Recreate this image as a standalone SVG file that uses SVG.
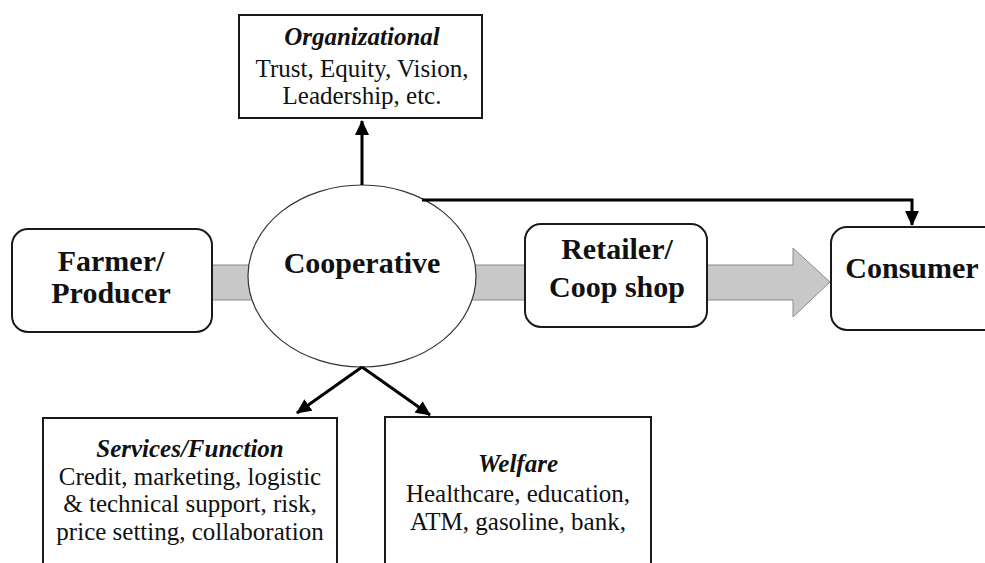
<svg xmlns="http://www.w3.org/2000/svg" width="985" height="563" viewBox="0 0 985 563">
<style>
.bg{fill:#ffffff}
.rbox{fill:#ffffff;stroke:#1a1a1a;stroke-width:2}
.sbox{fill:#ffffff;stroke:#1a1a1a;stroke-width:2}
.ell{fill:#ffffff;stroke:#333333;stroke-width:1.2}
.flow{fill:#c8c8c8;stroke:#8a8a8a;stroke-width:1}
.conn{fill:none;stroke:#000000;stroke-width:3}
text{font-family:'Liberation Serif',Tinos,'Times New Roman',Times,'Nimbus Roman','Noto Serif','DejaVu Serif',serif;fill:#111111;text-anchor:middle}
.big{font-weight:bold;font-size:30px}
.hd{font-weight:bold;font-style:italic;font-size:25px}
.bd{font-size:25px}
</style>
<defs>
<marker id="ah" markerUnits="userSpaceOnUse" markerWidth="16" markerHeight="14" refX="14" refY="7" orient="auto">
<path d="M0,0 L15,7 L0,14 Z" fill="#000000"/>
</marker>
</defs>
<rect class="bg" x="0" y="0" width="985" height="563"/>
<g id="flows">
<rect class="flow" x="210" y="265" width="52" height="35"/>
<rect class="flow" x="462" y="265" width="65" height="35"/>
<polygon class="flow" points="707,265 793,265 793,248 830,282 793,317 793,300 707,300"/>
</g>
<g id="farmer">
<rect class="rbox" x="12" y="229" width="200" height="103" rx="16"/>
<text class="big" x="111" y="271">Farmer/</text>
<text class="big" x="111" y="303">Producer</text>
</g>
<g id="cooperative">
<ellipse class="ell" cx="362" cy="276" rx="114" ry="91"/>
<text class="big" x="362" y="273">Cooperative</text>
</g>
<g id="retailer">
<rect class="rbox" x="525" y="224" width="182" height="103" rx="16"/>
<text class="big" x="617" y="259">Retailer/</text>
<text class="big" x="617" y="297">Coop shop</text>
</g>
<g id="consumer">
<rect class="rbox" x="831" y="227" width="170" height="103" rx="16"/>
<text class="big" x="912" y="278">Consumer</text>
</g>
<g id="organizational">
<rect class="sbox" x="239" y="15" width="243" height="103"/>
<text class="hd" x="362" y="45">Organizational</text>
<text class="bd" x="362" y="77">Trust, Equity, Vision,</text>
<text class="bd" x="362" y="104">Leadership, etc.</text>
</g>
<g id="services">
<rect class="sbox" x="43" y="418" width="294" height="160"/>
<text class="hd" x="190" y="457">Services/Function</text>
<text class="bd" x="190" y="485">Credit, marketing, logistic</text>
<text class="bd" x="190" y="512">&amp; technical support, risk,</text>
<text class="bd" x="190" y="540">price setting, collaboration</text>
</g>
<g id="welfare">
<rect class="sbox" x="385" y="417" width="266" height="160"/>
<text class="hd" x="518" y="472">Welfare</text>
<text class="bd" x="518" y="502">Healthcare, education,</text>
<text class="bd" x="518" y="530">ATM, gasoline, bank,</text>
</g>
<g id="connectors">
<path class="conn" d="M362,185 L362,121" marker-end="url(#ah)"/>
<path class="conn" d="M422,200 L912,200 L912,225" marker-end="url(#ah)"/>
<path class="conn" d="M362,367 L297,413" marker-end="url(#ah)"/>
<path class="conn" d="M362,367 L430,415" marker-end="url(#ah)"/>
</g>
</svg>
